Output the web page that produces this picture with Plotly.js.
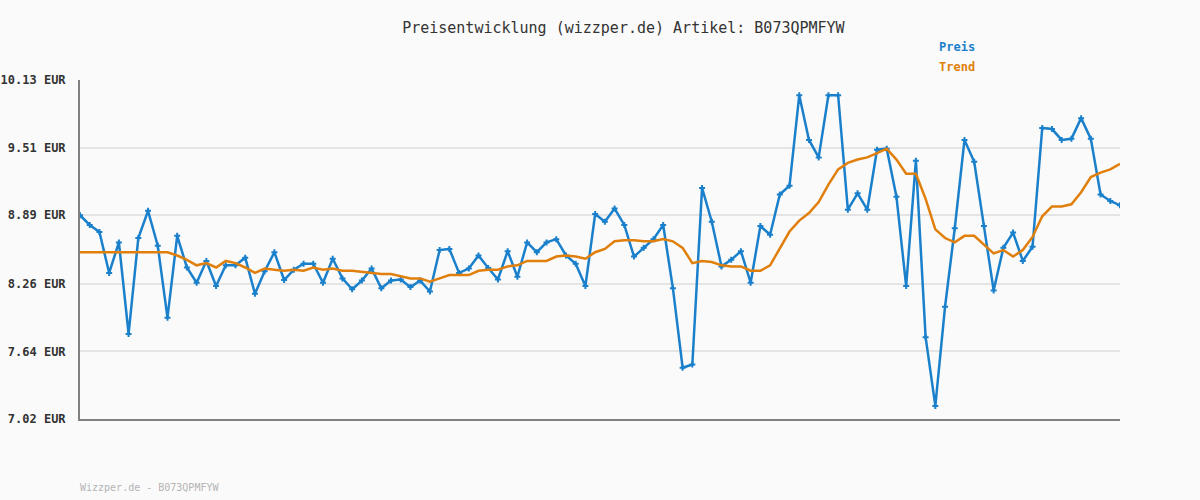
<!DOCTYPE html>
<html>
<head>
<meta charset="utf-8">
<script src="https://cdn.plot.ly/plotly-3.0.1.min.js"></script>
<style>html,body{margin:0;padding:0;background:#fafafa;}#chart{width:1200px;height:500px;}</style>
</head>
<body>
<div id="chart"></div>
<script>
const preis = [8.89,8.80,8.735,8.36,8.64,7.80,8.68,8.93,8.61,7.95,
  8.70,8.41,8.27,8.47,8.24,8.43,8.43,8.50,8.17,8.375,
  8.55,8.295,8.39,8.445,8.445,8.27,8.49,8.31,8.21,8.29,
  8.40,8.22,8.29,8.30,8.23,8.29,8.19,8.57,8.58,8.36,
  8.40,8.52,8.405,8.30,8.56,8.325,8.64,8.55,8.64,8.67,
  8.52,8.445,8.24,8.90,8.83,8.95,8.80,8.51,8.59,8.67,
  8.80,8.22,7.49,7.52,9.14,8.83,8.42,8.48,8.56,8.27,
  8.79,8.71,9.08,9.16,9.99,9.58,9.42,9.99,9.99,8.94,
  9.09,8.94,9.49,9.50,9.06,8.24,9.39,7.77,7.14,8.05,
  8.77,9.58,9.38,8.79,8.20,8.59,8.73,8.47,8.60,9.69,
  9.68,9.58,9.59,9.78,9.59,9.08,9.02,8.98];
const trend = [8.55,8.55,8.55,8.55,8.55,8.55,8.55,8.55,8.55,8.55,
  8.52,8.48,8.43,8.45,8.41,8.47,8.45,8.41,8.36,8.40,
  8.39,8.38,8.39,8.38,8.41,8.39,8.40,8.38,8.38,8.37,
  8.36,8.35,8.35,8.33,8.31,8.31,8.28,8.31,8.34,8.34,
  8.34,8.38,8.39,8.39,8.42,8.43,8.47,8.47,8.47,8.51,
  8.52,8.51,8.49,8.55,8.58,8.65,8.66,8.66,8.65,8.65,
  8.67,8.65,8.59,8.45,8.47,8.46,8.43,8.42,8.42,8.38,
  8.38,8.43,8.59,8.74,8.84,8.91,9.01,9.17,9.31,9.37,
  9.40,9.42,9.46,9.50,9.40,9.27,9.27,9.04,8.76,8.68,
  8.64,8.70,8.70,8.62,8.54,8.57,8.51,8.57,8.69,8.88,
  8.97,8.97,8.99,9.10,9.24,9.28,9.31,9.36];
const tickVals = [7.02,7.64,8.26,8.89,9.51,10.13];
const tickText = ["7.02 EUR","7.64 EUR","8.26 EUR","8.89 EUR","9.51 EUR","10.13 EUR"];
const titleText = "Preisentwicklung (wizzper.de) Artikel: B073QPMFYW";
const footerText = "Wizzper.de - B073QPMFYW";
const seriesNames = ["Preis", "Trend"];
const idx = preis.map((_, i) => i);

const mono = "DejaVu Sans Mono, monospace";
const blue = "#1a80cc";
const orange = "#e07f0c";

const data = [
  {x: idx, y: preis, type: "scatter", mode: "lines+markers", name: seriesNames[0],
   line: {color: blue, width: 2.5},
   marker: {symbol: "cross", size: 5, color: blue}},
  {x: idx, y: trend, type: "scatter", mode: "lines", name: seriesNames[1],
   line: {color: orange, width: 2.5}}
];

const layout = {
  width: 1200, height: 500,
  paper_bgcolor: "#fafafa", plot_bgcolor: "#fafafa",
  margin: {l: 80, r: 80, t: 80, b: 81},
  showlegend: false,
  title: {text: titleText, x: 0.5225, xanchor: "center", xref: "paper",
          y: 1 - 28/500, yref: "container", yanchor: "middle",
          font: {family: mono, size: 15, color: "#333333"}},
  xaxis: {range: [0, preis.length - 1], showgrid: false, zeroline: false,
          showticklabels: false, ticks: "", showline: true, linecolor: "#808080",
          linewidth: 2, fixedrange: true},
  yaxis: {range: [7.02, 10.13], tickvals: tickVals, ticktext: tickText,
          showgrid: true, gridcolor: "#e4e4e4", gridwidth: 2, zeroline: false,
          showline: true, linecolor: "#808080", linewidth: 2, ticks: "",
          ticklabelstandoff: 10,
          tickfont: {family: mono, size: 12, color: "#333333", weight: "bold"},
          fixedrange: true},
  annotations: [
    {text: seriesNames[0], xref: "paper", yref: "paper", x: 857/1040, y: 372/339,
     xanchor: "left", yanchor: "middle", showarrow: false,
     font: {family: mono, size: 12, color: blue, weight: "bold"}},
    {text: seriesNames[1], xref: "paper", yref: "paper", x: 857/1040, y: 352/339,
     xanchor: "left", yanchor: "middle", showarrow: false,
     font: {family: mono, size: 12, color: orange, weight: "bold"}},
    {text: footerText, xref: "paper", yref: "paper", x: -2/1040, y: -68/339,
     xanchor: "left", yanchor: "middle", showarrow: false,
     font: {family: mono, size: 10, color: "#b4b4b4"}}
  ]
};

Plotly.newPlot("chart", data, layout, {displayModeBar: false, staticPlot: true});
</script>
</body>
</html>
